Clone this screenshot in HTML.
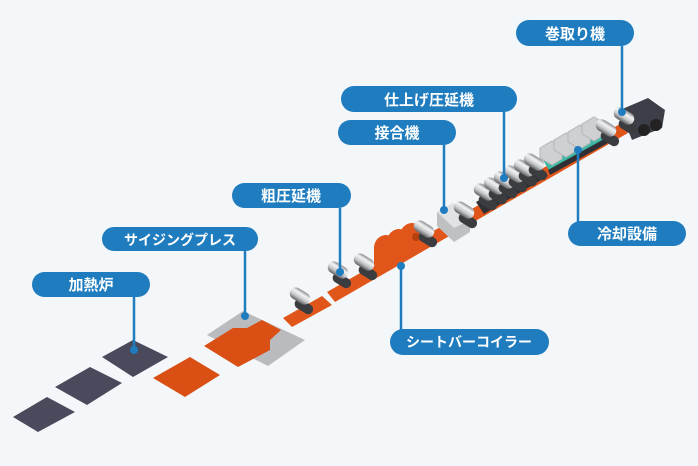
<!DOCTYPE html>
<html><head><meta charset="utf-8"><style>
html,body{margin:0;padding:0;background:#f4f7f9;}
svg{display:block;}
.lb{fill:#1e7cbf;}
.t{font-family:"Liberation Sans","Noto Sans CJK JP",sans-serif;font-weight:bold;font-size:15px;fill:#fff;text-anchor:middle;}
.ln{stroke:#1e7cbf;stroke-width:2.5;}
</style></head><body>
<svg width="698" height="466" viewBox="0 0 698 466" xmlns="http://www.w3.org/2000/svg">
<defs>
<linearGradient id="rg" x1="0" y1="0" x2="0" y2="1">
<stop offset="0" stop-color="#8a8d91"/><stop offset="0.3" stop-color="#f4f4f4"/><stop offset="0.65" stop-color="#c4c6c8"/><stop offset="1" stop-color="#5e6064"/></linearGradient>
<g id="r">
<rect x="-9" y="-5" width="20" height="10" rx="5" fill="#3a3c40" transform="translate(3,10) rotate(32)"/>
<rect x="-11" y="-6" width="22" height="12" rx="6" fill="url(#rg)" transform="rotate(32)"/>
</g>
</defs>
<rect width="698" height="466" fill="#f4f7f9"/>
<!-- slabs -->
<polygon points="13,417 47,397 75,412 38,432" fill="#4a4a5c"/>
<polygon points="55,387 90,367 122,383 87,405" fill="#4a4a5c"/>
<polygon points="102,357 133,340 168,357 133,377" fill="#4a4a5c"/>
<polygon points="153,378 190,357 220,375 185,397" fill="#d94f14"/>
<!-- press -->
<polygon points="207,335 243,311 305,340 268,366" fill="#b9bbbe"/>
<polygon points="204,346 233,328 247,328 262,320 281,330 270,340 270,350 238,367" fill="#d94f14"/>
<!-- strip -->
<polygon points="283,318 322,296 332,305 292,327" fill="#e0561a"/>
<polygon points="327,292 620,124 628,133 335,302" fill="#e0561a"/>
<!-- coil box -->
<g fill="#e0561a">
<ellipse cx="386" cy="248" rx="12" ry="13"/><ellipse cx="399" cy="242" rx="12" ry="13"/><ellipse cx="412" cy="236" rx="12" ry="13"/>
<rect x="374" y="242" width="20" height="28" rx="6"/>
</g>
<circle cx="416" cy="237" r="4" fill="#b8400f"/>
<!-- junction machine -->
<polygon points="437,212 453,203 470,220 470,232 454,242 437,226" fill="#bfc0c2"/>
<polygon points="437,212 453,203 470,220 454,228" fill="#e1e2e3"/>
<!-- finishing mills -->
<polygon points="476,202 540,166 548,176 484,214" fill="#2e3035"/>
<!-- cooling -->
<polygon points="540,155 596,124 606,140 550,172" fill="#3fb8a6"/>
<polygon points="548,170 606,138 608,143 550,175" fill="#2e3035"/>
<g fill="#cfd0d1" stroke="#b5b6b8" stroke-width="1">
<polygon points="540,148 552,141 562,147 562,159 552,165 540,158"/>
<polygon points="554,140 566,133 576,139 576,151 566,157 554,150"/>
<polygon points="568,132 580,125 590,131 590,143 580,149 568,142"/>
<polygon points="582,124 594,117 604,123 604,135 594,141 582,134"/>
</g>
<!-- coiler -->
<polygon points="620,110 648,98 665,110 662,128 632,140" fill="#3c3f48"/>
<circle cx="644" cy="130" r="6" fill="#222"/><circle cx="656" cy="125" r="6" fill="#222"/>
<!-- rollers -->
<use href="#r" x="300" y="296"/>
<use href="#r" x="338" y="270"/>
<use href="#r" x="364" y="262"/>
<use href="#r" x="424" y="229"/>
<use href="#r" x="464" y="210"/>
<use href="#r" x="484" y="192"/><use href="#r" x="494" y="186"/><use href="#r" x="504" y="180"/><use href="#r" x="514" y="174"/><use href="#r" x="524" y="168"/><use href="#r" x="534" y="162"/>
<use href="#r" x="606" y="128"/>
<use href="#r" x="624" y="116"/>
<!-- labels lines -->
<line class="ln" x1="622" y1="46" x2="622" y2="112"/><circle cx="622" cy="112" r="4" fill="#1e7cbf"/>
<line class="ln" x1="504" y1="112" x2="504" y2="178"/><circle cx="504" cy="178" r="4" fill="#1e7cbf"/>
<line class="ln" x1="444" y1="145" x2="444" y2="210"/><circle cx="444" cy="210" r="4" fill="#1e7cbf"/>
<line class="ln" x1="340" y1="208" x2="340" y2="272"/><circle cx="340" cy="272" r="4" fill="#1e7cbf"/>
<line class="ln" x1="245" y1="251" x2="245" y2="316"/><circle cx="245" cy="316" r="4" fill="#1e7cbf"/>
<line class="ln" x1="134" y1="297" x2="134" y2="350"/><circle cx="134" cy="350" r="4" fill="#1e7cbf"/>
<line class="ln" x1="578" y1="150" x2="578" y2="222"/><circle cx="578" cy="150" r="4" fill="#1e7cbf"/>
<line class="ln" x1="401" y1="266" x2="401" y2="330"/><circle cx="401" cy="266" r="4" fill="#1e7cbf"/>
<!-- labels -->
<rect class="lb" x="516" y="20" width="118" height="26" rx="13"/><text class="t" x="575" y="39">巻取り機</text>
<rect class="lb" x="341" y="86" width="176" height="26" rx="13"/><text class="t" x="429" y="105">仕上げ圧延機</text>
<rect class="lb" x="338" y="120" width="118" height="25" rx="12.5"/><text class="t" x="397" y="138">接合機</text>
<rect class="lb" x="232" y="183" width="119" height="25" rx="12.5"/><text class="t" x="291" y="201">粗圧延機</text>
<rect class="lb" x="102" y="227" width="156" height="24" rx="12"/><text class="t" x="180" y="245" style="font-size:14px">サイジングプレス</text>
<rect class="lb" x="32" y="272" width="118" height="25" rx="12.5"/><text class="t" x="91" y="290">加熱炉</text>
<rect class="lb" x="568" y="221" width="118" height="25" rx="12.5"/><text class="t" x="627" y="239">冷却設備</text>
<rect class="lb" x="390" y="329" width="159" height="26" rx="13"/><text class="t" x="469" y="347" style="font-size:14px">シートバーコイラー</text>
</svg>
</body></html>
